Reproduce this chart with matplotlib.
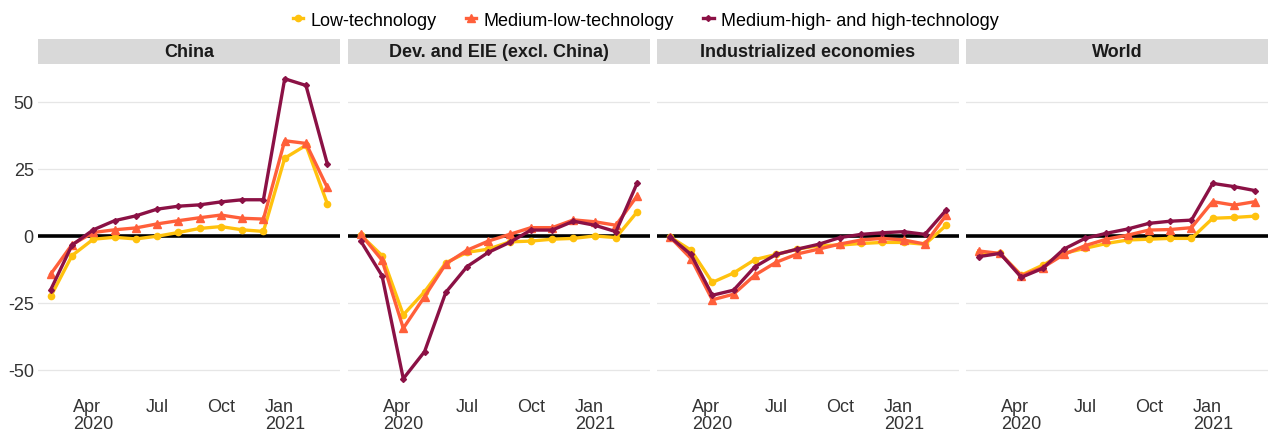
import numpy as np
import matplotlib
matplotlib.use("Agg")
import matplotlib.pyplot as plt
from matplotlib.lines import Line2D

plt.rcParams['font.family'] = ['Liberation Sans', 'DejaVu Sans']

# months Feb 2020 .. Mar 2021
months = ["2020-02", "2020-03", "2020-04", "2020-05", "2020-06", "2020-07", "2020-08",
          "2020-09", "2020-10", "2020-11", "2020-12", "2021-01", "2021-02", "2021-03"]
tick_pos = [2, 5, 8, 11]
tick_labels = ["Apr\n2020", "Jul", "Oct", "Jan\n2021"]

panels = ["China", "Dev. and EIE (excl. China)", "Industrialized economies", "World"]
series_names = ["Low-technology", "Medium-low-technology", "Medium-high- and high-technology"]

# values per panel: low, medium-low, medium-high/high
china_low = [-22.6, -7.4, -1.3, -0.6, -1.2, -0.2, 1.2, 2.7, 3.4, 2.2, 1.6, 28.9, 33.7, 12.0]
china_ml = [-14.3, -3.3, 1.2, 2.2, 2.9, 4.4, 5.6, 6.7, 7.7, 6.5, 6.2, 35.4, 34.4, 18.0]
china_mhh = [-20.1, -3.5, 2.2, 5.6, 7.4, 9.9, 11.0, 11.5, 12.6, 13.4, 13.4, 58.5, 56.0, 26.9]

dev_low = [0.2, -7.4, -29.5, -20.9, -10.1, -6.2, -5.0, -2.3, -2.0, -1.3, -1.0, -0.1, -0.7, 8.9]
dev_ml = [0.5, -9.1, -34.5, -22.7, -10.5, -5.4, -2.0, 0.5, 3.0, 3.0, 5.9, 5.2, 3.9, 14.9]
dev_mhh = [-2.0, -14.9, -53.3, -43.2, -21.1, -11.5, -6.2, -2.5, 2.1, 2.1, 5.4, 3.9, 1.5, 19.7]

ind_low = [-0.4, -5.4, -17.4, -13.9, -8.9, -7.0, -5.0, -3.7, -3.5, -2.9, -2.5, -2.5, -3.2, 3.9]
ind_ml = [-0.4, -8.5, -23.9, -21.8, -14.7, -9.9, -6.8, -5.0, -3.1, -1.6, -1.0, -1.6, -3.1, 7.7]
ind_mhh = [-0.4, -7.0, -22.2, -20.3, -11.6, -7.0, -5.0, -3.2, -0.7, 0.5, 1.1, 1.5, 0.5, 9.6]

world_low = [-6.6, -6.6, -14.7, -11.0, -6.6, -4.7, -2.9, -1.6, -1.3, -1.0, -1.0, 6.5, 6.8, 7.3]
world_ml = [-5.7, -6.6, -14.9, -11.9, -7.0, -3.7, -1.3, 0.2, 2.1, 2.3, 3.0, 12.7, 11.4, 12.7]
world_mhh = [-7.8, -6.6, -15.5, -12.2, -5.0, -1.0, 0.9, 2.5, 4.6, 5.4, 5.8, 19.5, 18.3, 16.8]

panel_data = [
    (china_low, china_ml, china_mhh),
    (dev_low, dev_ml, dev_mhh),
    (ind_low, ind_ml, ind_mhh),
    (world_low, world_ml, world_mhh),
]

colors = ["#FFC20E", "#FF5F3A", "#8B1145"]
markers = ["o", "^", "D"]
msizes = [4.5, 5.5, 3]

W, H = 1271, 439
fig = plt.figure(figsize=(W / 100, H / 100), dpi=100)
lefts = [38, 348, 657, 966]
pw = 302
top, bottom = 65, 395
x = np.arange(len(months))

for i, name in enumerate(panels):
    ax = fig.add_axes([lefts[i] / W, 1 - bottom / H, pw / W, (bottom - top) / H])
    ax.set_xlim(-0.6, 13.6)
    ax.set_ylim(-59, 64)
    ax.set_yticks([-50, -25, 0, 25, 50])
    ax.set_xticks(tick_pos)
    ax.set_xticklabels(tick_labels, fontsize=13, color="#333333", linespacing=0.95,
                       multialignment="left")
    if i == 0:
        ax.set_yticklabels(["-50", "-25", "0", "25", "50"], fontsize=13, color="#333333")
    else:
        ax.set_yticklabels([])
    ax.tick_params(length=0, pad=3)
    ax.grid(True, axis="y", color="#E6E6E6", linewidth=0.9)
    ax.set_axisbelow(True)
    for s in ax.spines.values():
        s.set_visible(False)
    ax.axhline(0, color="black", linewidth=2.6, zorder=2)
    for vals, c, m, ms in zip(panel_data[i], colors, markers, msizes):
        ax.plot(x, vals, color=c, linewidth=2.4, marker=m, markersize=ms, zorder=3)

    # facet strip
    sax = fig.add_axes([lefts[i] / W, 1 - 65 / H, pw / W, 25 / H])
    sax.set_facecolor("#D9D9D9")
    sax.set_xticks([])
    sax.set_yticks([])
    for s in sax.spines.values():
        s.set_visible(False)
    sax.text(0.5, 0.5, name, ha="center", va="center", fontsize=13,
             fontweight="bold", color="#1A1A1A", transform=sax.transAxes)

handles = [Line2D([0], [0], color=c, marker=m, markersize=ms, linewidth=2.4)
           for c, m, ms in zip(colors, markers, msizes)]
fig.legend(handles, series_names, loc="center", bbox_to_anchor=(0.508, 1 - 21 / H),
           ncol=3, frameon=False, fontsize=13, handlelength=0.6, handletextpad=0.4,
           columnspacing=1.6)

fig.savefig("out.png", dpi=100)
